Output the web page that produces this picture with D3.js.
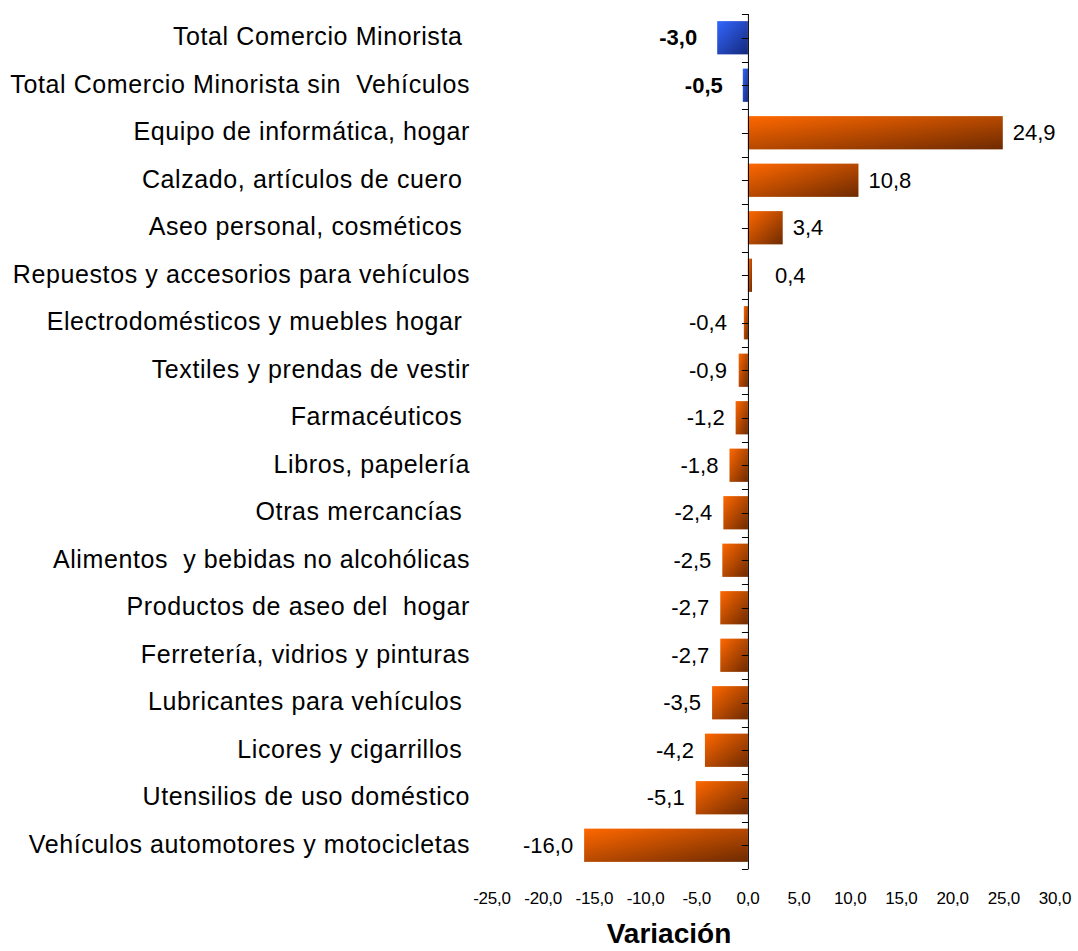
<!DOCTYPE html>
<html>
<head>
<meta charset="utf-8">
<script src="https://cdn.jsdelivr.net/npm/d3@7"></script>
<style>
body { margin: 0; background: #fff; }
text { font-family: "Liberation Sans", Arial, sans-serif; white-space: pre; }
</style>
</head>
<body>
<svg></svg>
<script>
var width = 1078;
var height = 951;

// categories, top to bottom (spacing kept as in the original labels)
var categories = [
    "Total Comercio Minorista ",
    "Total Comercio Minorista sin  Vehículos",
    "Equipo de informática, hogar",
    "Calzado, artículos de cuero ",
    "Aseo personal, cosméticos ",
    "Repuestos y accesorios para vehículos",
    "Electrodomésticos y muebles hogar ",
    "Textiles y prendas de vestir",
    "Farmacéuticos ",
    "Libros, papelería",
    "Otras mercancías ",
    "Alimentos  y bebidas no alcohólicas",
    "Productos de aseo del  hogar",
    "Ferretería, vidrios y pinturas",
    "Lubricantes para vehículos ",
    "Licores y cigarrillos ",
    "Utensilios de uso doméstico",
    "Vehículos automotores y motocicletas"
];
var values = [-3.0, -0.5, 24.9, 10.8, 3.4, 0.4, -0.4, -0.9, -1.2, -1.8, -2.4, -2.5, -2.7, -2.7, -3.5, -4.2, -5.1, -16.0];
// the first two rows are totals (blue, bold labels)
var isTotal = [true, true, false, false, false, false, false, false, false, false, false, false, false, false, false, false, false, false];
var xTicks = [-25, -20, -15, -10, -5, 0, 5, 10, 15, 20, 25, 30];

var svg = d3.select("svg")
    .attr("width", width)
    .attr("height", height);

var x = d3.scaleLinear().domain([-25, 30]).range([492, 1055]);
var y = d3.scaleBand().domain(d3.range(categories.length)).range([14, 869]).paddingInner(0.3).paddingOuter(0.15);

var fmt = function(v) { return d3.format(".1f")(v).replace(".", ",").replace("−", "-"); };

// gradients
var defs = svg.append("defs");
function grad(id, c1, c2) {
    var g = defs.append("linearGradient").attr("id", id)
        .attr("x1", "0%").attr("y1", "0%").attr("x2", "100%").attr("y2", "100%");
    g.append("stop").attr("offset", "0%").attr("stop-color", c1);
    g.append("stop").attr("offset", "100%").attr("stop-color", c2);
}
grad("gOrange", "#ff6800", "#6e2a00");
grad("gBlue", "#3366ff", "#14287a");

// bars
svg.append("g").selectAll("rect")
    .data(values)
    .enter().append("rect")
    .attr("x", function(d) { return x(Math.min(0, d)); })
    .attr("y", function(d, i) { return y(i); })
    .attr("width", function(d) { return Math.abs(x(d) - x(0)); })
    .attr("height", y.bandwidth())
    .attr("fill", function(d, i) { return isTotal[i] ? "url(#gBlue)" : "url(#gOrange)"; });

// vertical axis line with ticks at band edges and centres
var step = (869 - 14) / categories.length;
var axisG = svg.append("g").attr("stroke", "#000").attr("stroke-width", 1);
axisG.append("line")
    .attr("x1", x(0) + 0.5).attr("x2", x(0) + 0.5)
    .attr("y1", 14).attr("y2", 869);
axisG.selectAll("line.tk")
    .data(d3.range(categories.length * 2 + 1))
    .enter().append("line")
    .attr("class", "tk")
    .attr("x1", x(0) - 6).attr("x2", x(0) + 0.5)
    .attr("y1", function(d) { return Math.round(14 + d * step / 2) + 0.5; })
    .attr("y2", function(d) { return Math.round(14 + d * step / 2) + 0.5; });

// category labels
svg.append("g").selectAll("text")
    .data(categories)
    .enter().append("text")
    .attr("x", 470)
    .attr("y", function(d, i) { return y(i) + y.bandwidth() / 2; })
    .attr("dy", "0.3em")
    .attr("text-anchor", "end")
    .style("font-size", "25px")
    .style("letter-spacing", "0.6px")
    .attr("fill", "#000")
    .text(function(d) { return d; });

// value labels
svg.append("g").selectAll("text")
    .data(values)
    .enter().append("text")
    .attr("x", function(d, i) {
        if (d >= 0) return Math.max(x(d) + 10, x(0) + 27);
        return isTotal[i] ? Math.min(x(d) - 20, x(0) - 23) : Math.min(x(d) - 11, x(0) - 21);
    })
    .attr("y", function(d, i) { return y(i) + y.bandwidth() / 2; })
    .attr("dy", "0.35em")
    .attr("text-anchor", function(d) { return d >= 0 ? "start" : "end"; })
    .style("font-size", "22px")
    .style("font-weight", function(d, i) { return isTotal[i] ? "bold" : "normal"; })
    .attr("fill", "#000")
    .text(function(d) { return fmt(d); });

// x tick labels (no axis line)
svg.append("g").selectAll("text")
    .data(xTicks)
    .enter().append("text")
    .attr("x", function(d) { return x(d); })
    .attr("y", 904)
    .attr("text-anchor", "middle")
    .style("font-size", "17px")
    .style("letter-spacing", "-0.2px")
    .attr("fill", "#000")
    .text(function(d) { return fmt(d); });

svg.append("text")
    .attr("x", 669)
    .attr("y", 943)
    .attr("text-anchor", "middle")
    .style("font-size", "28px")
    .style("font-weight", "bold")
    .attr("fill", "#000")
    .text("Variación");
</script>
</body>
</html>
